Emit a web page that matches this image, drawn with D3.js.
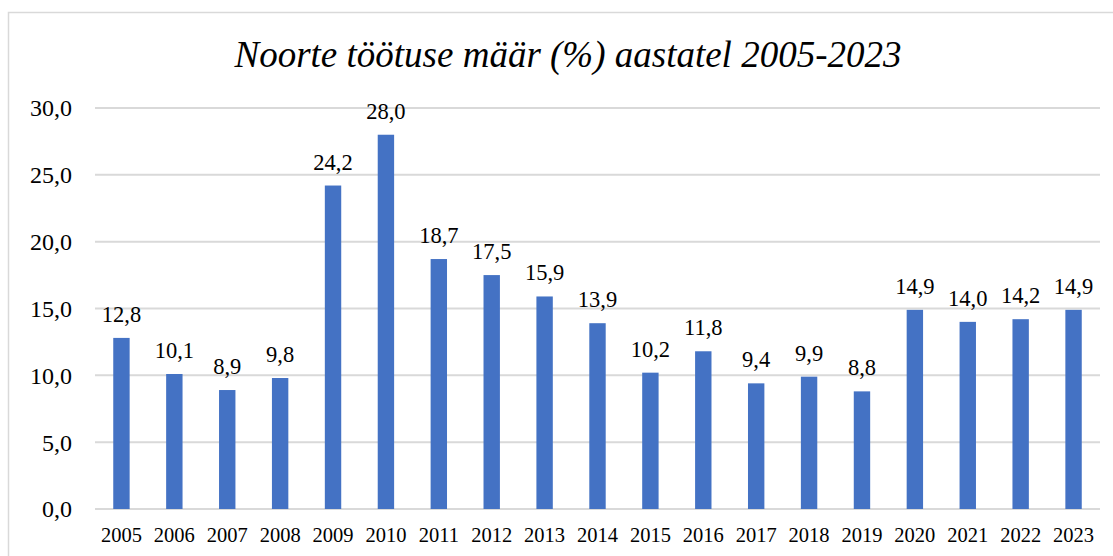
<!DOCTYPE html>
<html><head><meta charset="utf-8">
<script src="https://cdn.jsdelivr.net/npm/d3@7"></script>
<style>
html,body{margin:0;padding:0;background:#fff;}
svg{display:block;}
</style></head>
<body>
<svg id="chart" width="1113" height="556" font-family="Liberation Serif"></svg>
<script>
const title = "Noorte töötuse määr (%) aastatel 2005-2023";
const years = ["2005","2006","2007","2008","2009","2010","2011","2012","2013","2014","2015","2016","2017","2018","2019","2020","2021","2022","2023"];
const values = [12.8,10.1,8.9,9.8,24.2,28.0,18.7,17.5,15.9,13.9,10.2,11.8,9.4,9.9,8.8,14.9,14.0,14.2,14.9];
const yTicks = [0,5,10,15,20,25,30];

const svg = d3.select("#chart");
const font = "Liberation Serif";
const fmt = v => v.toFixed(1).replace(".", ",");

// outer border
svg.append("rect").attr("x",8.5).attr("y",12.5).attr("width",1120).attr("height",560)
  .attr("fill","#fff").attr("stroke","#d9d9d9").attr("stroke-width",1.5);

const x = d3.scaleBand().domain(years).range([95,1100]).paddingInner(0.69).paddingOuter(0.345);
const y = d3.scaleLinear().domain([0,30]).range([509,108]);

// gridlines
svg.append("g").selectAll("line").data(yTicks).join("line")
  .attr("x1",95).attr("x2",1100)
  .attr("y1",d=>y(d)).attr("y2",d=>y(d))
  .attr("stroke","#d9d9d9").attr("stroke-width",2);

// y axis labels
const yAxis = d3.axisLeft(y).tickValues(yTicks).tickFormat(fmt).tickSize(0).tickPadding(0);
const gy = svg.append("g").attr("transform","translate(72,0)").call(yAxis).attr("font-family",font);
gy.select(".domain").remove();
gy.selectAll("text").attr("font-family",font).attr("font-size",24).attr("fill","#000").attr("dy","0.33em");

// bars
svg.append("g").selectAll("rect").data(values).join("rect")
  .attr("x",(d,i)=>x(years[i])).attr("width",x.bandwidth())
  .attr("y",d=>y(d)).attr("height",d=>y(0)-y(d))
  .attr("fill","#4472c4");

// data labels
svg.append("g").attr("font-family",font).selectAll("text").data(values).join("text")
  .attr("x",(d,i)=>x(years[i])+x.bandwidth()/2)
  .attr("y",d=>y(d)-16)
  .attr("text-anchor","middle")
  .attr("font-family",font).attr("font-size",22.5).attr("fill","#000")
  .text(fmt);

// x axis labels
const xAxis = d3.axisBottom(x).tickSize(0).tickPadding(0);
const gx = svg.append("g").attr("transform","translate(0,509)").call(xAxis).attr("font-family",font);
gx.select(".domain").remove();
gx.selectAll("text").attr("font-family",font).attr("font-size",20.5).attr("fill","#000").attr("dy","0").attr("y",33);

// title
svg.append("text").attr("x",568).attr("y",67).attr("text-anchor","middle")
  .attr("font-family",font).attr("font-style","italic").attr("font-size",37).attr("fill","#000")
  .text(title);
</script>
</body></html>
